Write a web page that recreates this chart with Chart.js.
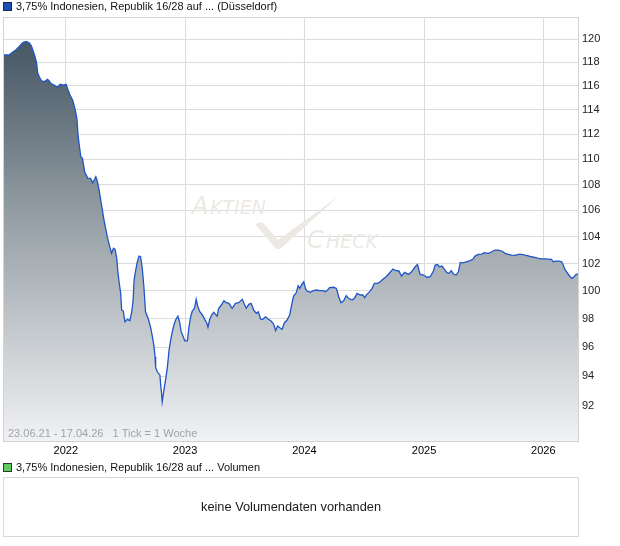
<!DOCTYPE html>
<html>
<head>
<meta charset="utf-8">
<title>3,75% Indonesien, Republik 16/28</title>
<script src="https://cdn.jsdelivr.net/npm/chart.js@4.4.1/dist/chart.umd.min.js"></script>
<style>
  html, body { margin: 0; padding: 0; background: #ffffff; }
  canvas { display: block; }
</style>
</head>
<body>
<canvas id="c" width="620" height="546"></canvas>
<script>
// ---------- data ----------
const seriesName = '3,75% Indonesien, Republik 16/28 auf ... (Düsseldorf)';
const volumeName = '3,75% Indonesien, Republik 16/28 auf ... Volumen';
const rangeText = '23.06.21 - 17.04.26   1 Tick = 1 Woche';
const noVolumeText = 'keine Volumendaten vorhanden';
const startDate = '2021-06-23';
const endDate = '2026-04-17';

// days after startDate
const dayOffset = [0,19,29,39,49,60,70,80,87,93,98,103,106,111,118,126,136,141,146,156,167,175,185,193,199,205,213,220,226,230,234,238,243,250,259,268,274,279,284,289,294,299,304,309,314,319,324,332,338,343,348,351,355,360,363,368,373,381,388,394,398,401,406,411,416,421,426,431,436,442,447,452,457,462,465,467,472,480,482,485,487,490,494,498,503,508,513,518,523,528,535,540,545,552,556,564,569,574,579,586,591,596,602,610,617,623,627,632,638,645,650,655,660,668,676,683,691,701,711,721,732,737,744,752,759,767,775,781,788,795,803,811,820,828,834,840,849,854,861,869,877,884,889,897,903,908,914,920,925,930,940,950,959,969,979,986,993,999,1012,1020,1027,1034,1042,1050,1057,1068,1075,1083,1093,1101,1106,1113,1122,1129,1136,1146,1154,1162,1172,1183,1193,1203,1211,1219,1229,1240,1250,1261,1268,1276,1286,1297,1307,1317,1322,1329,1335,1343,1350,1358,1365,1371,1378,1386,1393,1399,1408,1417,1427,1437,1444,1454,1465,1472,1485,1495,1505,1515,1526,1536,1546,1556,1566,1576,1587,1597,1607,1617,1627,1638,1648,1658,1668,1678,1683,1692,1702,1709,1714,1719,1726,1735,1740,1747,1753,1759];

const price = [118.62,118.62,118.85,119.05,119.34,119.68,119.80,119.68,119.40,118.91,118.47,117.91,117.11,116.77,116.43,116.35,116.55,116.43,116.21,116.07,115.88,116.13,116.07,116.13,115.65,115.23,114.82,114.13,113.31,111.81,111.00,110.20,110.07,108.99,108.51,108.49,108.14,108.36,108.62,108.22,107.57,106.80,106.02,105.26,104.63,103.99,103.50,102.75,103.13,103.05,102.38,101.50,100.66,99.82,98.62,98.55,97.79,97.96,97.86,98.50,99.34,100.79,101.52,102.13,102.55,102.50,101.64,100.30,98.50,98.14,97.79,97.33,96.74,96.04,95.35,94.61,94.31,94.08,93.53,92.85,92.28,92.73,93.30,93.86,94.65,95.80,96.51,97.09,97.56,97.91,98.19,97.79,97.09,96.69,96.45,96.45,97.44,98.14,98.55,98.75,99.39,98.86,98.50,98.27,97.96,97.72,97.40,97.91,98.27,98.46,98.31,98.19,98.75,98.98,99.29,99.15,99.10,98.75,99.10,99.15,99.39,99.10,98.75,99.03,99.10,98.62,98.39,98.50,97.98,97.96,98.14,97.98,97.84,97.63,97.16,97.49,97.33,97.26,97.72,97.91,98.27,99.10,99.63,99.86,100.37,100.18,100.47,100.66,100.18,99.99,99.89,100.01,100.06,100.01,100.01,99.94,100.06,100.23,100.26,100.18,99.58,99.15,99.29,99.65,99.46,99.34,99.46,99.82,99.70,99.70,99.51,99.75,99.94,100.18,100.55,100.55,100.66,100.84,101.03,101.32,101.59,101.47,101.45,101.08,101.35,101.20,101.39,101.76,101.93,101.20,101.15,100.99,101.03,101.47,101.88,101.93,101.76,101.81,101.59,101.32,101.28,101.47,101.23,101.15,101.39,102.08,102.05,102.13,102.20,102.31,102.55,102.68,102.70,102.80,102.75,102.87,103.00,103.00,102.93,102.75,102.68,102.62,102.60,102.68,102.68,102.62,102.57,102.50,102.46,102.38,102.35,102.35,102.33,102.31,102.13,102.18,102.18,102.13,101.88,101.57,101.32,101.03,100.91,101.03,101.20,101.22];

const yearLabels = ['2022', '2023', '2024', '2025', '2026'];
const yTickValues = [92, 94, 96, 98, 100, 102, 104, 106, 108, 110, 112, 114, 116, 118, 120];

// ---------- helpers ----------
const DAY = 86400000;
const t0 = Date.parse(startDate + 'T00:00:00Z');
const totalDays = Math.round((Date.parse(endDate + 'T00:00:00Z') - t0) / DAY);
const yearDays = yearLabels.map(y => Math.round((Date.parse(y + '-01-01T00:00:00Z') - t0) / DAY));
const points = dayOffset.map((d, i) => ({ x: d, y: price[i] }));

const FONT = "'Liberation Sans', Arial, Helvetica, sans-serif";
const WM_FONT = "'DejaVu Sans', Verdana, sans-serif";
Chart.defaults.font.family = FONT;
Chart.defaults.font.size = 11;

const decor = {
  id: 'decor',
  beforeDraw(chart) {
    const ctx = chart.ctx;
    ctx.save();
    ctx.fillStyle = '#ffffff';
    ctx.fillRect(0, 0, chart.width, chart.height);
    ctx.restore();
  },
  beforeDatasetsDraw(chart) {
    // faint watermark
    const ctx = chart.ctx;
    ctx.save();
    ctx.fillStyle = '#ece8e3';
    ctx.textBaseline = 'alphabetic';
    ctx.font = "italic 24px " + WM_FONT;
    ctx.fillText('A', 192, 214);
    ctx.font = "italic 19px " + WM_FONT;
    ctx.fillText('KTIEN', 210, 214);
    ctx.font = "italic 24px " + WM_FONT;
    ctx.fillText('C', 307, 248);
    ctx.font = "italic 19px " + WM_FONT;
    ctx.fillText('HECK', 326, 248);
    ctx.beginPath();
    ctx.moveTo(255, 224);
    ctx.lineTo(262, 222);
    ctx.lineTo(278, 240);
    ctx.lineTo(339, 196);
    ctx.lineTo(280, 249);
    ctx.lineTo(276, 249);
    ctx.closePath();
    ctx.fill();
    ctx.restore();
  },
  afterDraw(chart) {
    const ctx = chart.ctx;
    const a = chart.chartArea;
    ctx.save();
    // plot border
    ctx.strokeStyle = '#d2d2d2';
    ctx.lineWidth = 1;
    ctx.strokeRect(Math.round(a.left) + 0.5, Math.round(a.top) + 0.5,
                   Math.round(a.right - a.left), Math.round(a.bottom - a.top));
    // legend 1
    ctx.fillStyle = '#1d4fb8';
    ctx.fillRect(4, 3, 7, 7);
    ctx.strokeStyle = '#1a2a44';
    ctx.strokeRect(3.5, 2.5, 8, 8);
    ctx.fillStyle = '#111111';
    ctx.font = "11px " + FONT;
    ctx.textBaseline = 'middle';
    ctx.fillText(seriesName, 16, 7);
    // range text inside the plot
    ctx.fillStyle = '#a2a2ac';
    ctx.fillText(rangeText, 8, 434);
    // legend 2
    ctx.fillStyle = '#5fcb62';
    ctx.fillRect(4, 464, 7, 7);
    ctx.strokeStyle = '#2a3a2a';
    ctx.strokeRect(3.5, 463.5, 8, 8);
    ctx.fillStyle = '#111111';
    ctx.fillText(volumeName, 16, 468);
    // volume panel
    ctx.strokeStyle = '#d8d8d8';
    ctx.strokeRect(3.5, 477.5, Math.round(a.right - a.left), 59);
    ctx.fillStyle = '#1a1a1a';
    ctx.font = "12.8px " + FONT;
    ctx.textAlign = 'center';
    ctx.fillText(noVolumeText, 291, 507);
    ctx.restore();
  }
};

new Chart(document.getElementById('c'), {
  type: 'line',
  data: {
    datasets: [{
      label: seriesName,
      data: points,
      borderColor: '#1f55c6',
      borderWidth: 1.3,
      pointRadius: 0,
      tension: 0,
      fill: 'start',
      backgroundColor(context) {
        const area = context.chart.chartArea;
        if (!area) return '#9aa3aa';
        const g = context.chart.ctx.createLinearGradient(0, area.top, 0, area.bottom);
        g.addColorStop(0, '#45545f');
        g.addColorStop(0.1, '#4d5d6a');
        g.addColorStop(0.5, '#9aa3a9');
        g.addColorStop(1, '#f1f2f4');
        return g;
      }
    }]
  },
  options: {
    responsive: false,
    animation: false,
    devicePixelRatio: 1,
    layout: { padding: { left: 3, top: 17, right: 0, bottom: 85 } },
    plugins: { legend: { display: false }, tooltip: { enabled: false } },
    scales: {
      x: {
        type: 'linear',
        min: 0,
        max: totalDays,
        afterBuildTicks(scale) { scale.ticks = yearDays.map(v => ({ value: v })); },
        afterFit(scale) { scale.height = 20; },
        ticks: {
          autoSkip: false, maxRotation: 0, padding: 3, color: '#000000',
          font: { size: 11 },
          callback(value, index) { return yearLabels[index]; }
        },
        grid: { color: '#dcdcdc', drawTicks: false },
        border: { display: false }
      },
      y: {
        type: 'logarithmic',
        position: 'right',
        min: 89.7,
        max: 121.93,
        afterBuildTicks(scale) { scale.ticks = yTickValues.map(v => ({ value: v })); },
        afterFit(scale) { scale.width = 42; },
        ticks: {
          padding: 4, color: '#222222', font: { size: 11 },
          callback(value) { return String(value); }
        },
        grid: { color: '#dcdcdc', drawTicks: false },
        border: { display: false }
      }
    }
  },
  plugins: [decor]
});
</script>
</body>
</html>
